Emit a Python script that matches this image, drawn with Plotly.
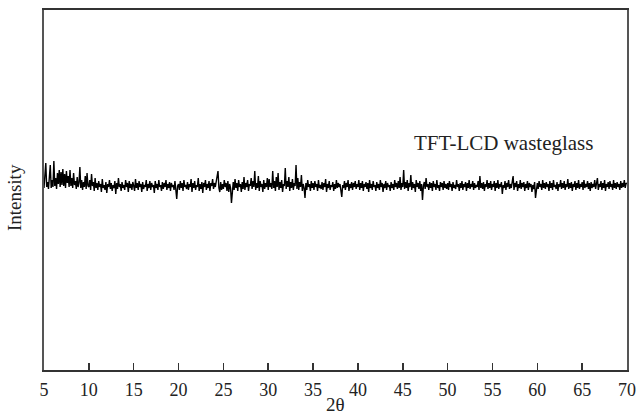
import plotly.graph_objects as go

# XRD pattern of TFT-LCD waste glass, 2theta 5-70 deg, step 0.1 deg (a.u.)
start_2theta = 5.0
step_2theta = 0.1
intensity = [
    # 5.0 - 9.9
    182, 195, 207, 183, 188, 181, 199, 205, 182, 190, 183, 209, 184, 192, 181, 197, 186, 200, 183, 198,
    185, 201, 184, 196, 182, 199, 187, 194, 183, 200, 184, 192, 182, 197, 185, 189, 181, 193, 183, 187,
    203, 182, 190, 180, 188, 183, 194, 181, 197, 184,
    # 10.0 - 14.9
    183, 190, 180, 196, 184, 188, 179, 192, 182, 187, 180, 189, 183, 186, 178, 191, 182, 185, 180, 188,
    177, 186, 183, 190, 181, 187, 179, 185, 182, 189, 176, 187, 181, 192, 183, 186, 179, 188, 182, 185,
    180, 190, 183, 187, 178, 189, 182, 186, 180, 188,
    # 15.0 - 19.9
    184, 179, 191, 182, 187, 180, 189, 183, 186, 178, 188, 181, 185, 183, 190, 179, 186, 182, 189, 180,
    187, 183, 185, 177, 189, 182, 186, 180, 190, 183, 185, 179, 188, 181, 187, 183, 190, 180, 186, 182,
    188, 179, 187, 183, 185, 180, 189, 178, 171, 184,
    # 20.0 - 24.9
    186, 180, 189, 182, 187, 179, 190, 183, 185, 181, 188, 180, 186, 183, 191, 178, 187, 182, 189, 180,
    185, 183, 192, 179, 186, 181, 188, 177, 187, 183, 190, 180, 186, 182, 189, 179, 187, 184, 191, 181,
    187, 183, 189, 192, 199, 182, 178, 188, 180, 186,
    # 25.0 - 29.9
    181, 190, 183, 187, 179, 189, 178, 186, 182, 167, 184, 188, 180, 191, 182, 187, 179, 190, 183, 186,
    178, 188, 181, 193, 180, 187, 183, 190, 179, 186, 184, 192, 181, 189, 183, 199, 180, 187, 182, 194,
    179, 189, 183, 186, 178, 190, 181, 187, 183, 192,
    # 30.0 - 34.9
    180, 191, 183, 187, 181, 199, 182, 189, 179, 193, 183, 197, 180, 188, 182, 190, 178, 186, 184, 202,
    181, 189, 183, 193, 179, 188, 182, 191, 180, 187, 184, 205, 181, 192, 180, 188, 183, 195, 179, 186,
    182, 172, 187, 180, 190, 183, 186, 179, 189, 182,
    # 35.0 - 39.9
    187, 180, 189, 183, 186, 179, 190, 182, 185, 181, 188, 180, 187, 183, 191, 178, 186, 182, 189, 180,
    185, 183, 188, 179, 186, 181, 190, 182, 187, 183, 186, 180, 173, 185, 182, 189, 180, 187, 183, 190,
    179, 186, 182, 188, 180, 187, 183, 189, 181, 186,
    # 40.0 - 44.9
    183, 190, 180, 187, 182, 189, 179, 186, 183, 188, 181, 187, 178, 190, 182, 186, 180, 189, 183, 185,
    179, 188, 182, 186, 180, 190, 183, 187, 178, 186, 182, 189, 180, 187, 183, 185, 179, 188, 182, 186,
    180, 190, 183, 187, 181, 189, 182, 193, 180, 187,
    # 45.0 - 49.9
    183, 200, 181, 188, 182, 190, 179, 187, 183, 195, 180, 188, 182, 186, 178, 190, 183, 187, 181, 189,
    179, 186, 170, 184, 188, 181, 192, 183, 186, 180, 188, 182, 187, 179, 189, 183, 186, 180, 190, 182,
    185, 179, 188, 183, 187, 180, 189, 182, 186, 181,
    # 50.0 - 54.9
    187, 180, 189, 183, 186, 179, 188, 182, 185, 181, 190, 183, 186, 179, 187, 182, 189, 180, 186, 183,
    188, 179, 187, 182, 190, 181, 186, 183, 189, 180, 187, 182, 185, 183, 189, 180, 194, 182, 187, 181,
    188, 179, 186, 183, 190, 181, 187, 182, 189, 180,
    # 55.0 - 59.9
    186, 183, 189, 179, 187, 182, 190, 181, 186, 183, 188, 176, 185, 182, 189, 180, 187, 183, 190, 181,
    186, 182, 188, 194, 180, 187, 183, 189, 179, 186, 182, 190, 181, 187, 183, 188, 179, 186, 182, 189,
    180, 187, 183, 186, 178, 185, 181, 188, 172, 184,
    # 60.0 - 64.9
    187, 181, 189, 183, 186, 180, 190, 182, 187, 181, 188, 183, 186, 179, 189, 182, 187, 180, 190, 183,
    185, 181, 188, 179, 186, 183, 190, 181, 187, 182, 189, 180, 186, 183, 191, 181, 187, 182, 188, 179,
    186, 183, 189, 180, 187, 182, 190, 181, 186, 183,
    # 65.0 - 69.9
    188, 180, 190, 182, 186, 183, 189, 181, 187, 179, 188, 182, 186, 183, 190, 181, 187, 192, 180, 186,
    183, 189, 180, 187, 182, 190, 179, 186, 183, 188, 181, 189, 183, 186, 180, 190, 182, 187, 181, 188,
    183, 186, 180, 189, 182, 187, 183, 190, 182, 187,
    # 70.0
    186,
]
two_theta = [round(start_2theta + step_2theta * i, 1) for i in range(len(intensity))]

x_ticks = [5, 10, 15, 20, 25, 30, 35, 40, 45, 50, 55, 60, 65, 70]
x_range = [5, 70]
y_range = [0, 360]
sample_label = "TFT-LCD wasteglass"
x_title = "2θ"
y_title = "Intensity"

FONT = "Liberation Serif, Times New Roman, serif"

fig = go.Figure()
fig.add_trace(go.Scatter(
    x=two_theta, y=intensity, mode="lines",
    line=dict(color="#000000", width=1.4),
    showlegend=False, hoverinfo="skip",
))

fig.add_annotation(
    x=46.05, y=227, xref="x", yref="y", text=sample_label, showarrow=False,
    xanchor="left", yanchor="middle", font=dict(family=FONT, size=21, color="#222222"),
)
fig.add_annotation(
    x=0.5, y=-0.097, xref="paper", yref="paper", text=x_title, showarrow=False,
    xanchor="center", yanchor="middle", font=dict(family=FONT, size=19, color="#222222"),
)
fig.add_annotation(
    x=-0.028, y=0.478, xref="paper", yref="paper", text=y_title, showarrow=False,
    textangle=-90, xanchor="right", yanchor="middle", font=dict(family=FONT, size=19, color="#222222"),
)

fig.update_layout(
    width=636, height=415,
    margin=dict(l=44, r=9, t=10, b=45, autoexpand=False),
    paper_bgcolor="white", plot_bgcolor="white",
    font=dict(family=FONT, size=18, color="#222222"),
    hovermode=False,
    xaxis=dict(
        range=x_range, tickvals=x_ticks, ticktext=[str(t) for t in x_ticks],
        ticks="inside", ticklen=7, tickwidth=1.5, tickcolor="#333333",
        showline=True, linecolor="#333333", linewidth=2, mirror=True,
        showgrid=False, zeroline=False, ticklabelstandoff=2, automargin=False,
        ticklabeloverflow="allow",
        tickfont=dict(family=FONT, size=18, color="#222222"),
    ),
    yaxis=dict(
        range=y_range, showticklabels=False, ticks="",
        showline=True, linecolor="#555555", linewidth=2, mirror=True,
        showgrid=False, zeroline=False, automargin=False,
    ),
)

# remove the default 8 px page margin so the 636x415 figure fills the window exactly
fig.write_html(
    "out.html",
    config={"displayModeBar": False, "staticPlot": True},
    post_script="document.body.style.margin='0';document.body.style.overflow='hidden';"
                "document.documentElement.style.overflow='hidden';",
)
